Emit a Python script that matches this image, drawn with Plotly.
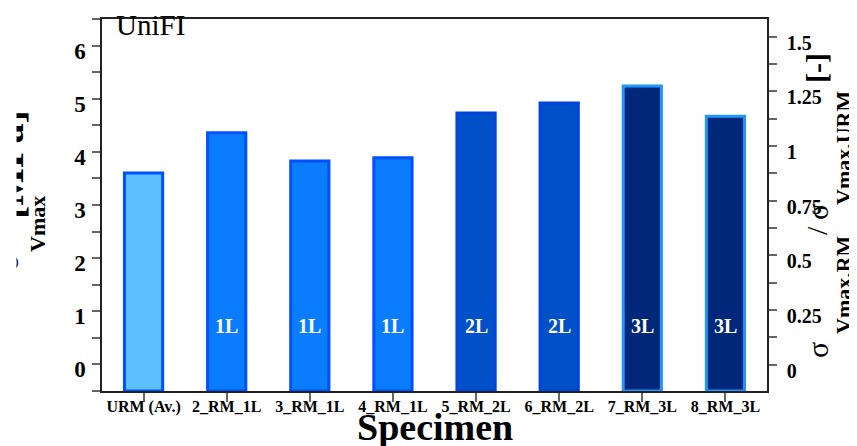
import plotly.graph_objects as go

# ---------------- data ----------------
specimens = ["URM (Av.)", "2_RM_1L", "3_RM_1L", "4_RM_1L",
             "5_RM_2L", "6_RM_2L", "7_RM_3L", "8_RM_3L"]
sigma_vmax = [3.60, 4.36, 3.83, 3.89, 4.73, 4.92, 5.24, 4.67]   # MPa
layers = ["URM", "1L", "1L", "1L", "2L", "2L", "3L", "3L"]
bar_labels = ["", "1L", "1L", "1L", "2L", "2L", "3L", "3L"]
right_tickvals = [0, 0.25, 0.5, 0.75, 1, 1.25, 1.5]
right_ticktext = ["0", "0.25", "0.5", "0.75", "1", "1.25", "1.5"]

# ---------------- style ----------------
W, H = 857, 446
OFF = 8                       # page body margin
PL, PR, PT, PB = 102, 767, 19, 391   # plot area in window pixels
Y_MIN, Y_MAX = -0.5, 6.5
Y2_MIN, Y2_MAX = -0.12, 1.58
SERIF = "Liberation Serif"
FILL = {"URM": "#5BBEFF", "1L": "#0A7DFF", "2L": "#0050C8", "3L": "#00287A"}
EDGE = {"URM": "#0050FF", "1L": "#0050FF", "2L": "#0044DD", "3L": "#2196FF"}
LABEL_Y = 0.72


def px_x(p):
    return (p - PL) / (PR - PL)


def px_y(p):
    return (PB - p) / (PB - PT)


fig = go.Figure()
fig.add_trace(go.Bar(
    x=specimens,
    y=[v - Y_MIN for v in sigma_vmax],
    base=Y_MIN,
    width=0.46,
    marker=dict(color=[FILL[l] for l in layers],
                line=dict(color=[EDGE[l] for l in layers], width=3)),
    showlegend=False,
))
fig.add_trace(go.Scatter(x=[specimens[0]], y=[None], yaxis="y2",
                         mode="markers", showlegend=False, hoverinfo="skip"))

ann = []
for s, lab in zip(specimens, bar_labels):
    if lab:
        ann.append(dict(x=s, y=LABEL_Y, xref="x", yref="y", text=lab,
                        showarrow=False,
                        font=dict(family=SERIF, size=20, color="white", weight="bold")))

ann.append(dict(x=px_x(114), y=px_y(25), xref="paper", yref="paper", text="UniFI",
                xanchor="left", yanchor="middle", showarrow=False,
                font=dict(family=SERIF, size=29, color="black")))

ann.append(dict(x=0.5, y=px_y(427), xref="paper", yref="paper", text="Specimen",
                xanchor="center", yanchor="middle", showarrow=False,
                font=dict(family=SERIF, size=38, color="black", weight="bold")))


def rot(text, cx, cy, size, bold=False):
    return dict(x=px_x(cx), y=px_y(cy), xref="paper", yref="paper", text=text,
                textangle=-90, xanchor="center", yanchor="middle", showarrow=False,
                font=dict(family=SERIF, size=size, color="black",
                          weight="bold" if bold else "normal"))


# left title (partly hidden)
ann.append(rot("σ", 4, 262, 40))
ann.append(rot("[MPa]", 9, 165, 40, True))
ann.append(rot("Vmax", 38, 224, 22, True))
ann.append(dict(x=px_x(0), y=0.5, xref="paper", yref="paper", text="&nbsp;",
                xanchor="left", yanchor="middle", showarrow=False,
                width=15, height=440, bgcolor="white", borderpad=0,
                font=dict(size=10, color="white")))

# right title
ann.append(rot("σ", 817, 350, 30))
ann.append(rot("Vmax,RM", 843, 285, 22, True))
ann.append(rot("/", 817, 231, 30))
ann.append(rot("σ", 817, 212, 30))
ann.append(rot("Vmax,URM", 843, 148, 22, True))
ann.append(rot("[-]", 816, 68, 30, True))

fig.update_layout(
    width=W, height=H, autosize=False,
    margin=dict(l=PL - OFF, r=W - (PR - OFF), t=PT - OFF, b=H - (PB - OFF),
                pad=0, autoexpand=False),
    paper_bgcolor="white", plot_bgcolor="white",
    annotations=ann,
    xaxis=dict(
        type="category", range=[-0.5, 7.5], automargin=False,
        showline=True, linecolor="#222", linewidth=1.5, mirror=True,
        ticks="outside", ticklen=9, tickcolor="#666", tickwidth=1.5,
        ticklabelstandoff=-9,
        tickfont=dict(family=SERIF, size=16, color="black", weight="bold"),
        showgrid=False, zeroline=False,
    ),
    yaxis=dict(
        range=[Y_MIN, Y_MAX], tick0=0, dtick=1, automargin=False,
        showline=True, linecolor="#222", linewidth=1.5,
        ticks="outside", ticklen=8, tickcolor="#666", tickwidth=1.5,
        ticklabelstandoff=2, ticklabelshift=5,
        minor=dict(dtick=0.5, tick0=0, ticks="outside", ticklen=8,
                   tickcolor="#666", tickwidth=1.5),
        tickfont=dict(family=SERIF, size=23, color="black", weight="bold"),
        showgrid=False, zeroline=False,
    ),
    yaxis2=dict(
        overlaying="y", side="right", range=[Y2_MIN, Y2_MAX], automargin=False,
        tickvals=right_tickvals, ticktext=right_ticktext,
        showline=True, linecolor="#222", linewidth=1.5,
        ticks="outside", ticklen=8, tickcolor="#666", tickwidth=1.5,
        ticklabelstandoff=6, ticklabelshift=6,
        minor=dict(dtick=0.125, tick0=0, ticks="outside", ticklen=8,
                   tickcolor="#666", tickwidth=1.5),
        tickfont=dict(family=SERIF, size=20, color="black", weight="bold"),
        showgrid=False, zeroline=False,
    ),
)

fig.write_html("out.html")
